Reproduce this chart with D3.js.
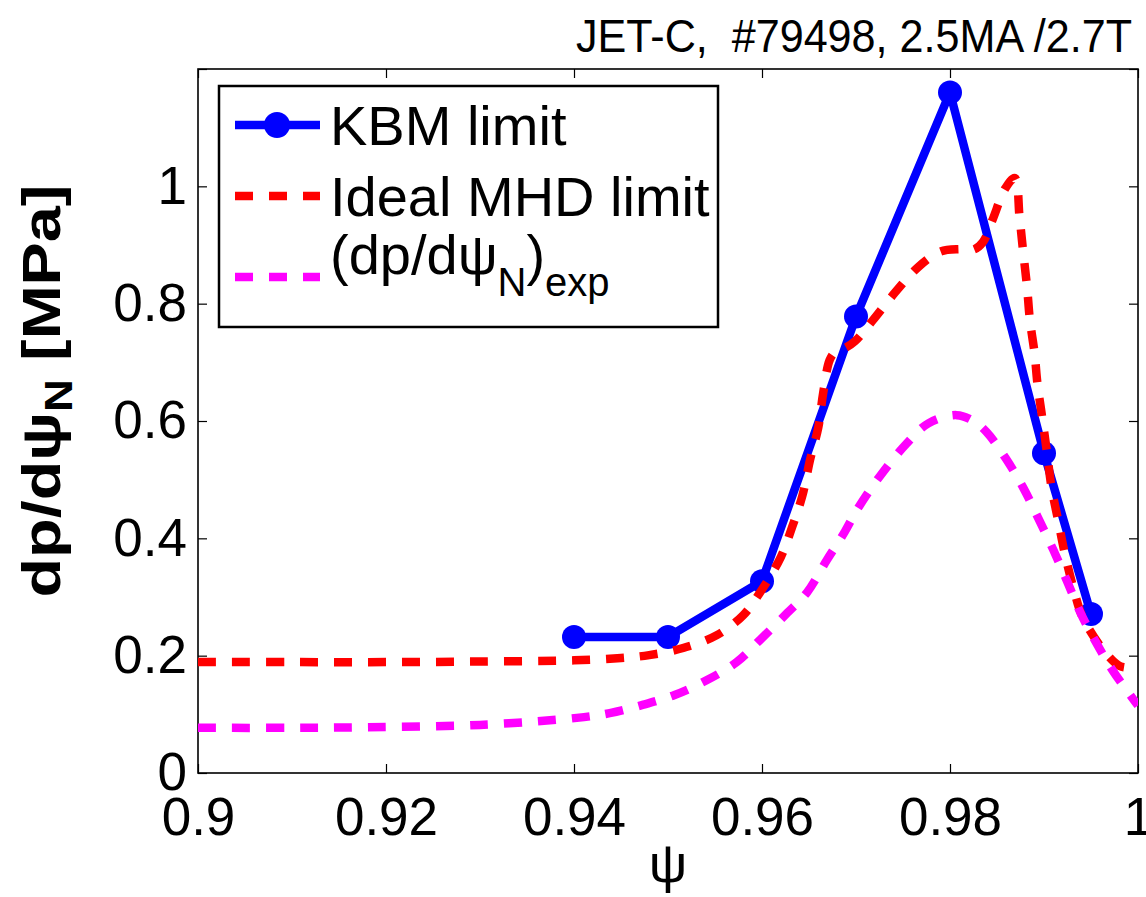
<!DOCTYPE html>
<html>
<head>
<meta charset="utf-8">
<title>KBM vs ideal MHD limit</title>
<script src="https://d3js.org/d3.v7.min.js"></script>
<style>
body { margin: 0; background: #fff; }
text { font-family: "Liberation Sans", Arial, Helvetica, sans-serif; fill: #000; }
.axis path { display: none; }
.axis line { stroke: #000; stroke-width: 1.2px; }
.axis text { font-size: 53px; }
</style>
</head>
<body>
<div id="chart"></div>
<script>
// ---- data ----
var kbmX = [0.94, 0.95, 0.96, 0.97, 0.98, 0.99, 0.995];
var kbmY = [0.232, 0.232, 0.327, 0.778, 1.160, 0.545, 0.271];

var mhdX = [0.900, 0.910, 0.920, 0.930, 0.940, 0.945, 0.948, 0.9516, 0.9552, 0.958, 0.9598,
  0.962, 0.9632, 0.9643, 0.9651, 0.966, 0.9665, 0.9672, 0.9678, 0.9688, 0.9699, 0.9718, 0.9741,
  0.9766, 0.979, 0.981, 0.9825, 0.9835, 0.9845, 0.9859, 0.9869, 0.9874, 0.9878, 0.9882, 0.9885,
  0.989, 0.9893, 0.9898, 0.9903, 0.9908, 0.9915, 0.9922, 0.9931, 0.9941, 0.9963, 0.998, 0.999, 1.0];
var mhdY = [0.189, 0.189, 0.189, 0.190, 0.192, 0.196, 0.201, 0.213, 0.235, 0.269, 0.308,
  0.368, 0.419, 0.473, 0.533, 0.590, 0.647, 0.704, 0.718, 0.724, 0.736, 0.772, 0.818,
  0.862, 0.889, 0.893, 0.892, 0.905, 0.942, 0.997, 1.014, 0.947, 0.886, 0.828, 0.772,
  0.715, 0.664, 0.607, 0.548, 0.487, 0.431, 0.375, 0.317, 0.266, 0.210, 0.183, 0.180, 0.186];

var expX = [0.900, 0.910, 0.918, 0.930, 0.9403, 0.9438, 0.9473, 0.9507, 0.9541, 0.9573, 0.9598,
  0.9627, 0.9648, 0.9669, 0.9688, 0.9702, 0.9725, 0.9754, 0.9777, 0.9807, 0.9825, 0.9839, 0.9859,
  0.9878, 0.9894, 0.991, 0.9924, 0.994, 0.9957, 0.9973, 0.9994, 1.0];
var expY = [0.077, 0.077, 0.078, 0.082, 0.094, 0.102, 0.116, 0.133, 0.158, 0.189, 0.227,
  0.273, 0.308, 0.363, 0.411, 0.451, 0.505, 0.562, 0.596, 0.610, 0.600, 0.581, 0.537,
  0.486, 0.434, 0.380, 0.329, 0.269, 0.218, 0.175, 0.128, 0.115];

var xTicks = [0.9, 0.92, 0.94, 0.96, 0.98, 1];
var yTicks = [0, 0.2, 0.4, 0.6, 0.8, 1, 1.2];
var yLabels = [0, 0.2, 0.4, 0.6, 0.8, 1];

var legendNames = ["KBM limit", "Ideal MHD limit"];
var titleText = "JET-C,  #79498, 2.5MA /2.7T";

// ---- layout ----
var W = 1146, H = 897;
var plotL = 198, plotR = 1138, plotT = 69, plotB = 773;

var svg = d3.select("#chart").append("svg")
  .attr("width", W)
  .attr("height", H);

var x = d3.scaleLinear().domain([0.9, 1]).range([plotL, plotR]);
var y = d3.scaleLinear().domain([0, 1.2]).range([plotB, plotT]);

var fmt = function(d) { return String(+d.toFixed(2)); };

// axes, ticks pointing inwards
svg.append("g")
  .attr("class", "x axis")
  .attr("transform", "translate(0," + plotB + ")")
  .call(d3.axisBottom(x).tickValues(xTicks).tickSizeInner(-9).tickSizeOuter(0)
    .tickPadding(24).tickFormat(fmt));

svg.append("g")
  .attr("class", "x axis")
  .attr("transform", "translate(0," + plotT + ")")
  .call(d3.axisTop(x).tickValues(xTicks).tickSizeInner(-9).tickSizeOuter(0).tickFormat(""));

svg.append("g")
  .attr("class", "y axis")
  .attr("transform", "translate(" + plotL + ",0)")
  .call(d3.axisLeft(y).tickValues(yTicks).tickSizeInner(-9).tickSizeOuter(0)
    .tickPadding(11).tickFormat(function(d) { return yLabels.indexOf(d) >= 0 ? fmt(d) : ""; }));

svg.append("g")
  .attr("class", "y axis")
  .attr("transform", "translate(" + plotR + ",0)")
  .call(d3.axisRight(y).tickValues(yTicks).tickSizeInner(-9).tickSizeOuter(0).tickFormat(""));

svg.append("rect")
  .attr("x", plotL).attr("y", plotT)
  .attr("width", plotR - plotL).attr("height", plotB - plotT)
  .attr("fill", "none").attr("stroke", "#000").attr("stroke-width", 1.6);

svg.append("clipPath").attr("id", "plot")
  .append("rect")
  .attr("x", plotL).attr("y", plotT)
  .attr("width", plotR - plotL).attr("height", plotB - plotT);

var line = d3.line()
  .x(function(d) { return x(d[0]); })
  .y(function(d) { return y(d[1]); });
var smooth = d3.line()
  .x(function(d) { return x(d[0]); })
  .y(function(d) { return y(d[1]); })
  .curve(d3.curveCatmullRom.alpha(0.5));

var kbm = d3.zip(kbmX, kbmY);
var mhd = d3.zip(mhdX, mhdY);
var exp = d3.zip(expX, expY);

var plot = svg.append("g").attr("clip-path", "url(#plot)");

plot.append("path")
  .attr("d", line(kbm))
  .attr("fill", "none")
  .attr("stroke", "#0000ff")
  .attr("stroke-width", 8.5)
  .attr("stroke-linejoin", "round");

plot.selectAll("circle.kbm")
  .data(kbm)
  .enter().append("circle")
  .attr("class", "kbm")
  .attr("cx", function(d) { return x(d[0]); })
  .attr("cy", function(d) { return y(d[1]); })
  .attr("r", 12)
  .attr("fill", "#0000ff");

plot.append("path")
  .attr("d", smooth(mhd))
  .attr("fill", "none")
  .attr("stroke", "#ff0000")
  .attr("stroke-width", 8.5)
  .attr("stroke-dasharray", "18,16");

plot.append("path")
  .attr("d", smooth(exp))
  .attr("fill", "none")
  .attr("stroke", "#ff00ff")
  .attr("stroke-width", 8.5)
  .attr("stroke-dasharray", "18,16");

// title
svg.append("text")
  .attr("x", 1132)
  .attr("y", 52)
  .attr("text-anchor", "end")
  .attr("font-size", 46)
  .attr("textLength", 556)
  .attr("lengthAdjust", "spacingAndGlyphs")
  .style("white-space", "pre")
  .text(titleText);

// x label
svg.append("text")
  .attr("x", 668)
  .attr("y", 882)
  .attr("text-anchor", "middle")
  .attr("font-size", 54)
  .text("\u03c8");

// y label, stretched to the length it has in the figure
var ylab = svg.append("text")
  .attr("font-size", 54)
  .attr("font-weight", "bold")
  .attr("text-anchor", "middle");
ylab.append("tspan").text("dp/d\u03c8");
ylab.append("tspan").attr("font-size", 38).attr("dy", 12).text("N");
ylab.append("tspan").attr("dy", -12).text(" [MPa]");
var yw = ylab.node().getComputedTextLength();
ylab.attr("transform", "translate(60,391) rotate(-90) scale(" + (413 / yw) + ",1)");

// legend
var lg = svg.append("g");
lg.append("rect")
  .attr("x", 219).attr("y", 86)
  .attr("width", 499).attr("height", 241)
  .attr("fill", "#fff").attr("stroke", "#000").attr("stroke-width", 2.5);

var rowY = [125, 196, 277];
lg.append("line")
  .attr("x1", 235).attr("x2", 320).attr("y1", rowY[0]).attr("y2", rowY[0])
  .attr("stroke", "#0000ff").attr("stroke-width", 8.5);
lg.append("circle")
  .attr("cx", 277).attr("cy", rowY[0]).attr("r", 13).attr("fill", "#0000ff");
lg.append("line")
  .attr("x1", 235).attr("x2", 320).attr("y1", rowY[1]).attr("y2", rowY[1])
  .attr("stroke", "#ff0000").attr("stroke-width", 8.5).attr("stroke-dasharray", "18,16");
lg.append("line")
  .attr("x1", 235).attr("x2", 320).attr("y1", rowY[2]).attr("y2", rowY[2])
  .attr("stroke", "#ff00ff").attr("stroke-width", 8.5).attr("stroke-dasharray", "18,16");

lg.selectAll("text.name")
  .data(legendNames)
  .enter().append("text")
  .attr("class", "name")
  .attr("x", 330)
  .attr("y", function(d, i) { return rowY[i] + 20; })
  .attr("font-size", 56)
  .text(function(d) { return d; });

var t3 = lg.append("text")
  .attr("x", 330)
  .attr("y", 274)
  .attr("font-size", 56);
t3.append("tspan").text("(dp/d\u03c8");
t3.append("tspan").attr("font-size", 40).attr("dy", 22).text("N");
t3.append("tspan").attr("dy", -22).text(")");
t3.append("tspan").attr("font-size", 40).attr("dy", 22).text("exp");
</script>
</body>
</html>
